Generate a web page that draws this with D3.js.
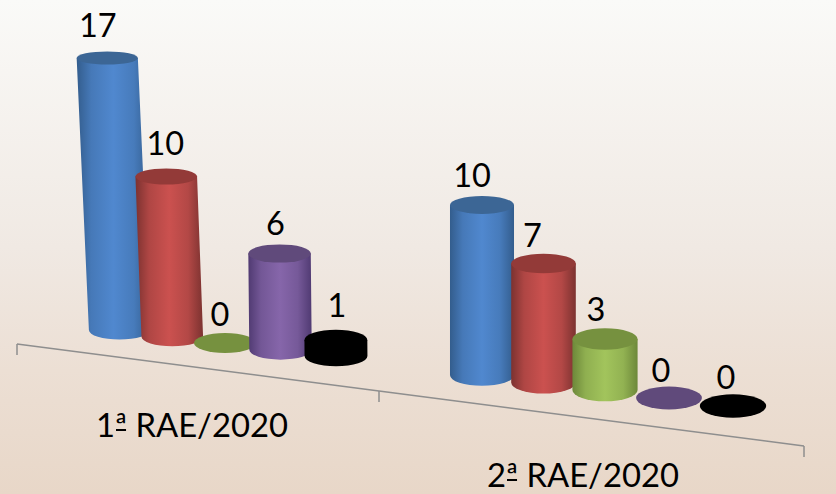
<!DOCTYPE html>
<html><head><meta charset="utf-8">
<script src="https://cdn.jsdelivr.net/npm/d3@7/dist/d3.min.js"></script>
<style>html,body{margin:0;padding:0;background:#fff}svg{display:block}</style>
</head><body><div id="c"></div>
<script>
// DATA
const categories = ["1ª RAE/2020", "2ª RAE/2020"];
const seriesA = [17, 10];
const seriesB = [10, 7];
const seriesC = [0, 3];
const seriesD = [6, 0];
const seriesE = [1, 0];
const allSeries = [seriesA, seriesB, seriesC, seriesD, seriesE];
const sideEdge = ["#335d8d", "#7c3230", "#6d883a", "#503a72", "#000000"];
const sideMid  = ["#5088cf", "#cb514f", "#a2c45c", "#8666aa", "#000000"];
const topFill  = ["#3c6695", "#933a38", "#76913f", "#604a7b", "#000000"];

const W = 836, H = 494;
const font = "Lato, 'Open Sans', sans-serif";
const svg = d3.select("#c").append("svg").attr("width", W).attr("height", H);
const defs = svg.append("defs");

const bg = defs.append("linearGradient").attr("id", "bg").attr("x1", 0).attr("x2", 0).attr("y1", 0).attr("y2", 1);
[[0, "#fafaf8"], [.5, "#f0e9e3"], [.75, "#ecdfd4"], [1, "#e8d7c8"]].forEach(([o, c]) =>
  bg.append("stop").attr("offset", o).attr("stop-color", c));
svg.append("rect").attr("width", W).attr("height", H).attr("fill", "url(#bg)");

sideMid.forEach((m, i) => {
  const g = defs.append("linearGradient").attr("id", "side" + i);
  [[0, sideEdge[i]], [.2, d3.interpolateRgb(sideEdge[i], m)(.65)], [.5, m], [.78, d3.interpolateRgb(sideEdge[i], m)(.7)], [1, sideEdge[i]]]
    .forEach(([o, c]) => g.append("stop").attr("offset", o).attr("stop-color", c));
});

// Projected layout of the 3D plot floor, one set per category
const idx = [0, 2, 4];
const baseX = [d3.scaleLinear().domain(idx).range([119.5, 225, 336]), d3.scaleLinear().domain(idx).range([482, 605, 733])];
const baseY = [d3.scaleLinear().domain(idx).range([330, 343, 356]), d3.scaleLinear().domain(idx).range([375, 390, 406])];
const heightScale = [d3.scaleLinear().domain([0, 17]).range([0, 272]), d3.scaleLinear().domain([0, 17]).range([0, 289])];
const rxScale = d3.scaleLinear().domain([120, 480, 733]).range([30.6, 32, 33.2]);
const ryScale = d3.scaleLinear().domain([120, 733]).range([9.6, 11.7]);
const leanScale = d3.scaleLinear().domain([120, 170, 280, 480]).range([.045, .038, .01, 0]).clamp(true);
const labelNudge = [[-9.5, -1, -5, -4, 1], [-10, -11, -9, -8, -7]];
const labelLift = [[21, 22, 17, 19, 23], [18, 17, 18, 16, 17]];

categories.forEach((cat, c) => {
  const g = svg.append("g");
  allSeries.forEach((series, s) => {
    const v = series[c];
    const bx = baseX[c](s), by = baseY[c](s);
    const h = heightScale[c](v);
    const tx = bx - leanScale(bx) * h, ty = by - h;
    const rx = rxScale(bx), ry = ryScale(bx), rt = ry - .011 * h;
    if (h > 0) {
      g.append("path")
        .attr("d", `M${tx - rx},${ty}L${bx - rx},${by}A${rx},${ry} 0 0 0 ${bx + rx},${by}L${tx + rx},${ty}Z`)
        .attr("fill", `url(#side${s})`);
    }
    g.append("ellipse").attr("cx", tx).attr("cy", ty).attr("rx", rx).attr("ry", rt).attr("fill", topFill[s]);
    g.append("text").attr("x", tx + labelNudge[c][s]).attr("y", ty - labelLift[c][s])
      .attr("text-anchor", "middle").attr("font-family", font).attr("font-size", 32.5).attr("fill", "#000").text(v);
  });
});

// Category axis
const axisPos = [0, 1, 2];
const axX = d3.scaleLinear().domain(axisPos).range([17, 379, 804]);
const axY = d3.scaleLinear().domain(axisPos).range([344, 391, 446]);
const ax = svg.append("g").attr("stroke", "#8e8e8e").attr("stroke-width", 1.5).attr("fill", "none");
ax.append("path").attr("d", d3.line().x(axX).y(axY)(axisPos));
axisPos.forEach(p => ax.append("line").attr("x1", axX(p)).attr("x2", axX(p)).attr("y1", axY(p)).attr("y2", axY(p) + 11));

const labelX = d3.scaleLinear().domain([0, 1]).range([192, 583]);
const labelY = d3.scaleLinear().domain([0, 1]).range([437, 487]);
categories.forEach((cat, c) => {
  const t = svg.append("text").attr("x", labelX(c)).attr("y", labelY(c))
    .attr("text-anchor", "middle").attr("font-family", font).attr("font-size", 32.8).attr("fill", "#000").text(cat);
  // The ordinal mark carries an underline in the original typeface
  const box = t.node().getExtentOfChar(1);
  svg.append("line").attr("x1", box.x + 1).attr("x2", box.x + box.width - 1)
    .attr("y1", labelY(c) - 7).attr("y2", labelY(c) - 7).attr("stroke", "#000").attr("stroke-width", 2);
});
</script></body></html>
